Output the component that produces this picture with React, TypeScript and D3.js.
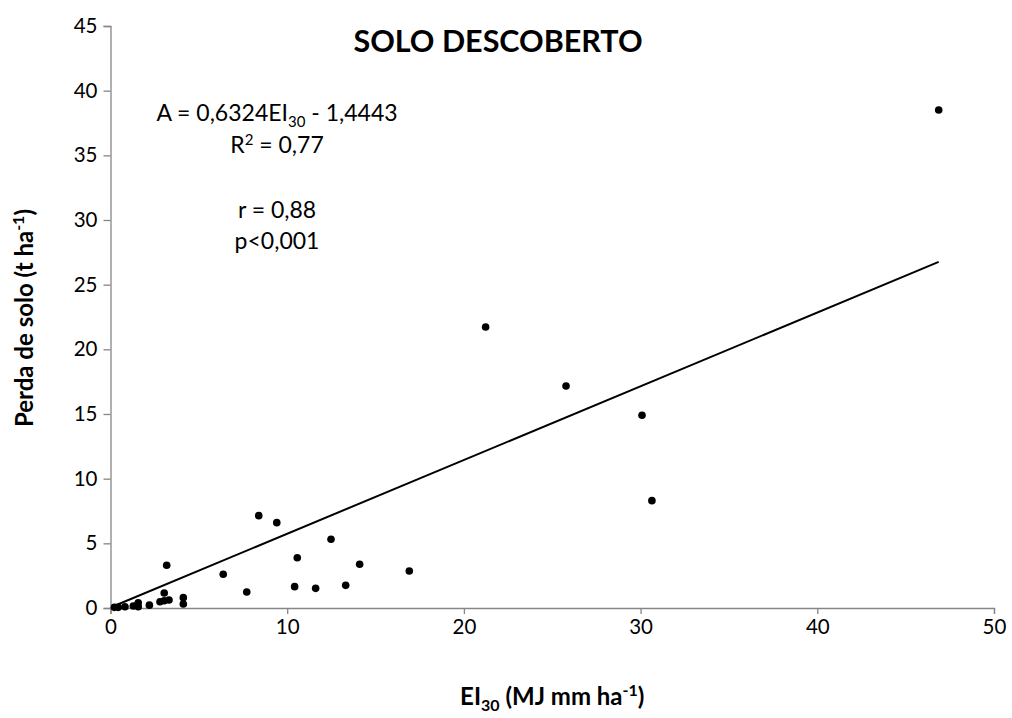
import { useEffect, useRef } from "react";
import * as d3 from "d3";

// EI30 (MJ mm ha-1) vs. soil loss (t ha-1)
const ei30 = [46.87, 21.23, 25.78, 30.08, 30.64, 8.39, 9.41, 12.48, 10.57, 14.1, 6.38, 16.91, 7.71, 10.42, 11.61, 13.31,
  3.18, 3.04, 3.04, 2.8, 3.31, 4.12, 4.12, 2.2, 1.57, 1.57, 1.29, 0.82, 0.44, 0.22];
const perda = [38.5, 21.73, 17.17, 14.9, 8.3, 7.14, 6.6, 5.31, 3.89, 3.38, 2.61, 2.86, 1.24, 1.65, 1.52, 1.75,
  3.3, 1.16, 0.56, 0.48, 0.62, 0.8, 0.31, 0.22, 0.41, 0.1, 0.15, 0.1, 0.05, 0.05];

// trend line as drawn (endpoints)
const trendX = [0.1, 46.87];
const trendY = [0.1, 26.76];

const xTicks = [0, 10, 20, 30, 40, 50];
const yTicks = [0, 5, 10, 15, 20, 25, 30, 35, 40, 45];

const FONT = "Lato, 'Open Sans', sans-serif";

export default function App() {
  const svgRef = useRef<SVGSVGElement>(null);

  useEffect(() => {
    if (!svgRef.current) return;
    const W = 1012, H = 718;
    const margin = { top: 26, right: 18, bottom: 110, left: 110.5 };
    const width = W - margin.left - margin.right;
    const height = H - margin.top - margin.bottom;

    const svg = d3.select(svgRef.current);
    svg.selectAll("*").remove();
    svg.attr("viewBox", `0 0 ${W} ${H}`);

    const g = svg.append("g").attr("transform", `translate(${margin.left},${margin.top})`);

    const x = d3.scaleLinear().domain([0, 50]).range([0, width]);
    const y = d3.scaleLinear().domain([0, 45]).range([height, 0]);

    // ── Axes ──
    g.append("g")
      .attr("transform", `translate(0,${height})`)
      .call(d3.axisBottom(x).tickValues(xTicks).tickSizeOuter(0).tickSize(6).tickPadding(5))
      .call((ax) => ax.select(".domain").attr("stroke", "#868686").attr("stroke-width", 1.3))
      .call((ax) => ax.selectAll(".tick line").attr("stroke", "#868686").attr("stroke-width", 1.3))
      .call((ax) => ax.selectAll("text").attr("fill", "#000").attr("font-size", 20.5).attr("font-family", FONT));

    g.append("g")
      .call(d3.axisLeft(y).tickValues(yTicks).tickSizeOuter(0).tickSize(7).tickPadding(6))
      .call((ax) => ax.select(".domain").attr("stroke", "#868686").attr("stroke-width", 1.3))
      .call((ax) => ax.selectAll(".tick line").attr("stroke", "#868686").attr("stroke-width", 1.3))
      .call((ax) => ax.selectAll("text").attr("fill", "#000").attr("font-size", 20.5).attr("font-family", FONT));

    // ── Trend line ──
    const line = d3.line<number>().x((d) => x(d)).y((_, i) => y(trendY[i]));
    g.append("path")
      .datum(trendX)
      .attr("fill", "none")
      .attr("stroke", "#000")
      .attr("stroke-width", 2)
      .attr("d", line);

    // ── Points ──
    g.selectAll("circle.pt")
      .data(ei30)
      .join("circle")
      .attr("class", "pt")
      .attr("cx", (d) => x(d))
      .attr("cy", (_, i) => y(perda[i]))
      .attr("r", 3.8)
      .attr("fill", "#000");

    // ── Title ──
    svg.append("text")
      .attr("x", 498)
      .attr("y", 52)
      .attr("text-anchor", "middle")
      .attr("font-family", FONT)
      .attr("font-weight", "bold")
      .attr("font-size", 30.5)
      .text("SOLO DESCOBERTO");

    // ── Equation box ──
    const cx = 277;
    const eq = svg.append("text")
      .attr("x", cx)
      .attr("y", 121)
      .attr("text-anchor", "middle")
      .attr("font-family", FONT)
      .attr("font-size", 23);
    eq.append("tspan").text("A = 0,6324EI");
    eq.append("tspan").attr("font-size", 15).attr("dy", 6).text("30");
    eq.append("tspan").attr("dy", -6).text(" - 1,4443");

    const r2 = svg.append("text")
      .attr("x", cx)
      .attr("y", 153)
      .attr("text-anchor", "middle")
      .attr("font-family", FONT)
      .attr("font-size", 23);
    r2.append("tspan").text("R");
    r2.append("tspan").attr("font-size", 15).attr("dy", -8).text("2");
    r2.append("tspan").attr("dy", 8).text(" = 0,77");

    svg.append("text")
      .attr("x", cx)
      .attr("y", 218)
      .attr("text-anchor", "middle")
      .attr("font-family", FONT)
      .attr("font-size", 23)
      .text("r = 0,88");

    svg.append("text")
      .attr("x", cx)
      .attr("y", 249)
      .attr("text-anchor", "middle")
      .attr("font-family", FONT)
      .attr("font-size", 23)
      .text("p<0,001");

    // ── Axis titles ──
    const xt = svg.append("text")
      .attr("x", margin.left + width / 2)
      .attr("y", 705)
      .attr("text-anchor", "middle")
      .attr("font-family", FONT)
      .attr("font-weight", "bold")
      .attr("font-size", 24);
    xt.append("tspan").text("EI");
    xt.append("tspan").attr("font-size", 16).attr("dy", 6).text("30");
    xt.append("tspan").attr("dy", -6).text(" (MJ mm ha");
    xt.append("tspan").attr("font-size", 16).attr("dy", -9).text("-1");
    xt.append("tspan").attr("dy", 9).text(")");

    const yt = svg.append("text")
      .attr("transform", `translate(33,318) rotate(-90)`)
      .attr("text-anchor", "middle")
      .attr("font-family", FONT)
      .attr("font-weight", "bold")
      .attr("font-size", 24);
    yt.append("tspan").text("Perda de solo (t ha");
    yt.append("tspan").attr("font-size", 16).attr("dy", -9).text("-1");
    yt.append("tspan").attr("dy", 9).text(")");
  }, []);

  return (
    <svg
      ref={svgRef}
      width={1012}
      height={718}
      style={{ position: "absolute", left: 0, top: 0, background: "#fff" }}
    />
  );
}
